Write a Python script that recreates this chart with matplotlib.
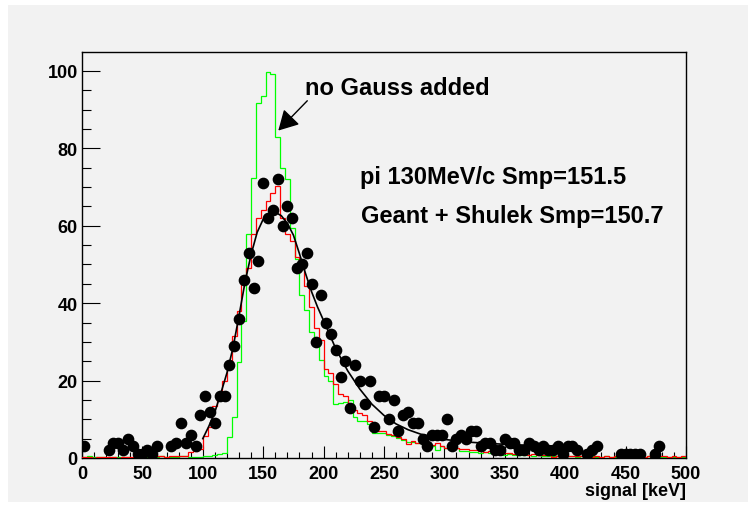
import numpy as np
import matplotlib
matplotlib.use("Agg")
import matplotlib.pyplot as plt
from matplotlib.patches import Rectangle

# ---------------- data ----------------
bin_width = 4
n_bins = 125

data_counts = [3, 0, 0, 0, 0, 2, 4, 4, 2, 5, 3, 1, 1, 2, 1, 3, 0, 0, 3, 4,
               9, 4, 6, 3, 11, 16, 12, 9, 16, 16, 24, 29, 36, 46, 53, 44, 51, 71, 62, 64,
               72, 60, 65, 62, 49, 50, 53, 45, 30, 42, 35, 32, 28, 21, 25, 13, 24, 20, 14, 20,
               8, 16, 16, 10, 15, 7, 11, 12, 9, 9, 5, 3, 6, 6, 6, 10, 3, 5, 6, 5,
               7, 7, 3, 4, 4, 2, 2, 5, 4, 4, 2, 2, 4, 3, 2, 3, 2, 2, 3, 1,
               3, 3, 2, 0, 1, 2, 3, 0, 0, 0, 0, 1, 1, 1, 1, 1, 0, 0, 1, 3,
               0, 0, 0, 0, 0]

green_no_gauss = [0.3, 0.5, 0.2, 0.3, 0.2, 0.1, 0.3, 0.2, 0.2, 0.3, 0.1, 0.2, 0.4, 0.2, 0.3, 0.2, 0.5, 0.3, 0.2, 0.3,
                  0.5, 0.4, 0.3, 0.2, 0.3, 0.6, 0.4, 0.8, 1.0, 1.4, 5.3, 10.5, 24.7, 35.5, 57.9, 72.4, 91.8, 93.6, 99.7, 99.2,
                  83.0, 75.0, 72.0, 59.5, 51.4, 42.0, 38.2, 32.5, 30.7, 25.3, 21.3, 20.0, 14.0, 14.2, 14.5, 15.0, 10.5, 9.5, 9.5, 8.8,
                  6.5, 6.4, 6.4, 5.9, 5.6, 5.1, 4.7, 4.2, 4.2, 3.9, 3.9, 3.6, 3.2, 2.1, 3.2, 2.6, 2.2, 2.6, 1.8, 1.9,
                  1.5, 1.6, 1.3, 1.5, 1.2, 1.0, 1.1, 0.9, 1.0, 0.8, 0.9, 0.7, 0.8, 0.6, 0.7, 0.5, 0.6, 0.5, 0.4, 0.5,
                  0.4, 0.5, 0.3, 0.4, 0.3, 0.5, 0.3, 0.2, 0.4, 0.3, 0.2, 0.3, 0.2, 0.3, 0.2, 0.3, 0.2, 0.4, 0.3, 0.2,
                  0.3, 0.2, 0.2, 0.3, 0.2]

red_shulek = [0.2, 0.3, 0.1, 0.2, 0.2, 0.3, 0.2, 0.1, 0.2, 0.3, 0.2, 0.1, 0.2, 0.1, 0.2, 0.4, 0.4, 0.3, 0.4, 0.6,
              0.6, 0.6, 1.5, 1.9, 2.2, 5.6, 8.0, 13.5, 15.0, 20.0, 25.0, 31.5, 38.0, 46.5, 49.0, 58.0, 62.0, 64.0, 66.5, 68.5,
              70.2, 62.0, 58.0, 56.0, 52.0, 49.0, 44.5, 39.0, 33.5, 30.5, 23.0, 22.0, 19.0, 16.5, 16.0, 13.0, 12.5, 11.5, 11.0, 9.5,
              7.5, 7.0, 7.0, 6.2, 6.0, 5.5, 5.0, 3.5, 4.5, 4.0, 4.2, 3.5, 3.3, 3.8, 3.0, 2.6, 2.5, 2.5, 2.2, 2.4,
              2.0, 2.1, 1.8, 1.6, 1.7, 1.4, 1.5, 1.3, 1.2, 1.1, 1.2, 1.0, 0.9, 1.0, 0.8, 0.9, 0.7, 0.2, 0.6, 0.7,
              0.5, 0.6, 0.4, 0.5, 0.4, 0.3, 0.4, 0.3, 0.4, 0.3, 0.4, 0.3, 0.2, 0.3, 0.3, 0.2, 0.3, 0.4, 1.2, 0.5,
              0.4, 0.3, 0.5, 0.3, 0.4]

fit_x = [100, 105, 110, 115, 120, 125, 130, 135, 140, 145, 150, 155, 160, 165, 170, 175, 180, 185, 190, 195,
         200, 210, 220, 230, 240, 250, 260, 270, 280, 290, 300, 320, 340, 360, 380, 400]
fit_y = [5.0, 8.2, 11.9, 16.8, 22.0, 28.5, 36.8, 45.5, 52.6, 58.3, 61.7, 63.2, 63.5, 62.6, 60.6, 57.6, 52.8, 47.7, 43.0, 39.0,
         35.5, 28.3, 22.5, 17.8, 13.9, 11.0, 8.8, 7.3, 6.2, 5.4, 4.8, 4.1, 3.7, 3.4, 3.2, 3.0]

x_ticks = [0, 50, 100, 150, 200, 250, 300, 350, 400, 450, 500]
y_ticks = [0, 20, 40, 60, 80, 100]
x_label = "signal [keV]"
text_arrow = "no Gauss added"
text_pi = "pi 130MeV/c Smp=151.5"
text_geant = "Geant + Shulek Smp=150.7"

# ---------------- figure ----------------
plt.rcParams['font.family'] = ['Liberation Sans', 'DejaVu Sans']
plt.rcParams['font.weight'] = 'bold'

W, H = 748, 506
fig = plt.figure(figsize=(W / 100, H / 100), dpi=100)
fig.patch.set_facecolor('white')
pad_col = '#f2f2f2'
fig.patches.append(Rectangle((8 / W, 3 / H), (W - 8) / W, 497 / H, transform=fig.transFigure,
                             facecolor=pad_col, edgecolor='none', zorder=-10))

ax = fig.add_axes([82 / W, 47 / H, 604 / W, 406 / H])
ax.set_facecolor(pad_col)

edges = np.arange(0, n_bins * bin_width + 1, bin_width)
centers = edges[:-1] + bin_width / 2

ax.stairs(green_no_gauss, edges, color='#00ff00', lw=0.9, baseline=0, zorder=2)
ax.stairs(red_shulek, edges, color='#ff0000', lw=0.9, baseline=0, zorder=3)
ax.plot(fit_x, fit_y, color='black', lw=1.2, zorder=4)

dc = np.array(data_counts, dtype=float)
mask = dc > 0
ax.plot(centers[mask], dc[mask], 'o', color='black', ms=7.4, zorder=5)

ax.set_xlim(0, 500)
ax.set_ylim(0, 104.9)

ax.set_xticks(x_ticks)
ax.set_xticklabels([str(t) for t in x_ticks])
ax.set_xticks(np.arange(0, 501, 10), minor=True)
ax.set_yticks(y_ticks)
ax.set_yticklabels([str(t) for t in y_ticks])
ax.set_yticks(np.arange(0, 105, 5), minor=True)

ax.tick_params(axis='x', which='major', direction='in', length=8.6, width=0.8, top=False,
               labelsize=13, pad=5)
ax.tick_params(axis='x', which='minor', direction='in', length=4.3, width=0.8, top=False)
ax.tick_params(axis='y', which='major', direction='in', length=13, width=0.8, right=False,
               labelsize=13, pad=3)
ax.tick_params(axis='y', which='minor', direction='in', length=6.5, width=0.8, right=False)
for lab in ax.get_xticklabels() + ax.get_yticklabels():
    lab.set_fontweight('bold')

for s in ax.spines.values():
    s.set_linewidth(1.0)
    s.set_color('black')

fig.text(686 / W, (H - 492) / H, x_label, ha='right', va='center', fontsize=13, fontweight='bold')

ax.annotate('', xy=(162.5, 84.6), xytext=(186.5, 92.3),
            arrowprops=dict(arrowstyle='-|>,head_length=0.45,head_width=0.25', color='black',
                            lw=1.0, mutation_scale=27, shrinkA=0, shrinkB=0))
ax.text(184.6, 94.1, text_arrow, ha='left', va='baseline', fontsize=17, fontweight='bold')
ax.text(230, 71.1, text_pi, ha='left', va='baseline', fontsize=17, fontweight='bold')
ax.text(231, 61.0, text_geant, ha='left', va='baseline', fontsize=17, fontweight='bold')

fig.savefig('out.png', dpi=100, facecolor=fig.get_facecolor())
